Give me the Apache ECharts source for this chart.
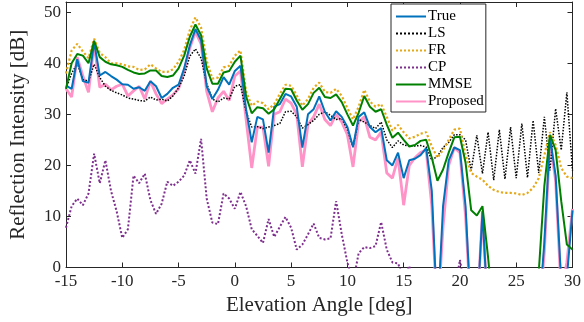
<!DOCTYPE html>
<html><head><meta charset="utf-8">
<script src="https://cdn.jsdelivr.net/npm/echarts@6/dist/echarts.min.js"></script>
<style>html,body{margin:0;padding:0;background:#fff}#c{width:584px;height:322px}</style>
</head><body><div id="c"></div>
<script>
const angles = [-15,-14.5,-14,-13.5,-13,-12.5,-12,-11.5,-11,-10.5,
-10,-9.5,-9,-8.5,-8,-7.5,-7,-6.5,-6,-5.5,
-5,-4.5,-4,-3.5,-3,-2.5,-2,-1.5,-1,-0.5,
0,0.5,1,1.5,2,2.5,3,3.5,4,4.5,
5,5.5,6,6.5,7,7.5,8,8.5,9,9.5,
10,10.5,11,11.5,12,12.5,13,13.5,14,14.5,
15,15.5,16,16.5,17,17.5,18,18.5,19,19.5,
20,20.5,21,21.5,22,22.5,23,23.5,24,24.5,
25,25.5,26,26.5,27,27.5,28,28.5,29,29.5,
30];
const trueVals = [35.6,35.0,40.8,36.5,36.2,44.1,37.6,38.3,37.5,36.8,
35.9,35.8,35.0,35.3,34.6,36.5,35.5,33.2,34.0,35.2,
35.8,39.0,43.5,46.7,44.5,35.5,33.0,34.8,37.3,35.8,
38.5,39.5,31.0,24.5,29.5,29.0,22.5,31.5,32.0,34.0,
33.5,31.5,23.5,30.0,31.0,33.5,30.5,28.8,30.6,29.5,
27.5,23.6,29.5,30.4,27.5,26.5,27.3,21.0,20.0,22.5,
17.5,21.0,21.3,22.0,23.4,15.0,-10,12.0,21.0,23.5,
23.0,12.0,-10,-10,11.0,-10,-10,-10,-10,-10,
-10,-10,-10,-10,-10,5,25.5,18,-3,-2,
11.2];
const lsVals = [35,38,40,36.8,36.5,39.8,37.2,35.5,34.7,34.2,
33.8,33.2,33.0,32.7,32.6,33.4,32.8,33.0,32.6,33.6,
35.2,37.5,41.4,42.8,41.0,36.0,33.0,32.4,33.2,33.0,
35.5,35.8,30.5,27.5,27.6,27.2,27.5,27.8,28.2,30.5,
30.6,29.5,27.3,28.0,28.8,30.0,30.5,29.8,29.0,29.2,
27.0,23.6,29.0,28.5,27.8,27.2,28.5,25.0,23.5,24.8,
24.0,23.8,23.8,23.9,23.6,21.0,21.8,23.5,24.5,26.0,
26.0,25.0,19.0,25.9,18.4,26.5,17.1,27.0,17.3,27.5,
17.5,28.2,17.6,28.8,18.5,29.5,19.0,31.1,23.0,34.3,
19.0];
const frVals = [38,42.5,43.8,42.3,41.0,44.8,42.0,41.2,40.0,40.0,
39.8,39.4,39.3,38.7,38.8,39.8,39.0,38.3,38.3,38.8,
40.3,42.6,46.5,49.0,47.0,40.5,37.0,37.2,39.2,39.5,
41.5,42.5,34.5,31.7,32.5,32.2,31.0,32.0,34.0,35.8,
35.6,33.7,31.7,33.0,35.2,36.2,34.4,34.2,35.0,33.6,
31.2,29.0,31.5,34.8,32.5,31.5,32.0,29.5,26.8,27.9,
26.5,25.3,25.6,26.2,26.5,23.7,21.5,23.0,25.0,27.0,
27.2,22.0,18.5,17.8,17.2,16.0,15.2,14.8,14.6,14.6,
14.5,14.2,14.6,15.6,17.5,22.0,26.5,24.0,19.5,17.8,
17.5];
const cpVals = [7.8,12.0,13.5,12.2,14.5,22.3,16.5,21.0,15.0,11.0,
5.8,7.5,18.0,16.5,18.4,13.2,10.5,12.5,16.8,16.0,
16.8,18.0,21.0,18.4,25.2,13.5,8.8,8.5,14.5,13.5,
11.5,14.8,12.0,7.5,6.2,4.8,9.5,6.0,8.0,9.9,
7.8,3.5,4.5,6.5,8.6,5.8,5.5,5.7,13.0,6.5,
1.0,-3,2.8,4.0,3.8,4.2,8.9,3.5,1.0,0.8,
-2,0.3,-5,-5,-5,-5,-5,-5,-5,-5,
1.5,-5,-5,-5,-5,-5,-5,-5,-5,-5,
-5,-5,-5,-5,-5,-5,-5,-5,-5,-5,
-5];
const mmseVals = [35,40,41.8,41.5,40.0,44.4,41.2,40.3,39.8,39.6,
39.3,38.7,38.2,37.9,38.0,38.6,38.6,37.5,37.3,37.6,
39.0,41.5,45.2,47.6,45.5,39.0,36.0,36.0,38.2,38.5,
40.3,41.5,33.5,30.2,31.4,31.2,30.1,31.0,33.0,35.0,
34.9,32.7,30.9,32.0,34.2,35.2,33.4,33.2,33.9,32.4,
30.0,27.8,30.3,33.6,31.5,30.5,31.0,28.0,25.4,26.4,
25.0,23.7,24.0,24.8,25.0,21.5,17.0,19.2,22.5,25.5,
25.6,20.5,11.2,10.2,12.0,2.0,-10,-10,-10,-10,
-10,-10,-10,-10,-1,16,26.0,23.0,13.0,4.5,
3.5];
const propVals = [35,33.4,41.2,37.5,34.3,43.8,35.3,35.9,34.8,35.5,
35.9,33.6,34.6,35.5,33.0,36.5,34.0,32.1,33.0,33.8,
35.0,38.5,43.0,46.2,43.8,34.5,30.5,33.2,34.5,32.7,
37.5,38.5,29.0,19.5,27.5,27.5,19.8,30.0,30.5,33.0,
32.2,30.0,19.7,28.0,29.5,32.0,29.0,27.8,30.0,28.5,
26.0,19.7,28.5,29.5,25.5,25.0,26.5,18.5,17.5,21.5,
12.2,20.0,21.5,22.5,23.0,12.0,-10,8,20.0,23.5,
22.5,10.0,-10,-10,11.0,-10,-10,-10,-10,-10,
-10,-10,-10,-10,-10,3,24.9,17,-5,1,
11.5];
const seriesNames = ['True','LS','FR','CP','MMSE','Proposed'];
const xTicks = [-15,-10,-5,0,5,10,15,20,25,30];

const pair = v => angles.map((a,i)=>[a,v[i]]);
const FONT = 'Liberation Serif';
const AX = '#262626';
const styles = [
  {v:trueVals, color:'#0072BD', w:2, type:'solid', z:4},
  {v:lsVals, color:'#000000', w:1.5, type:'dotted', z:3},
  {v:frVals, color:'#E6A817', w:2.2, type:'dotted', z:3},
  {v:cpVals, color:'#7E2F8E', w:2, type:'dotted', z:3},
  {v:mmseVals, color:'#008000', w:2, type:'solid', z:5},
  {v:propVals, color:'#FF92C6', w:2.8, type:'solid', z:2}
];
const chart = echarts.init(document.getElementById('c'), null, {renderer:'canvas'});
const xBase = {type:'value', min:-15, max:30, interval:5,
  axisLine:{show:true, onZero:false, lineStyle:{color:AX, width:1}},
  axisTick:{show:true, inside:true, length:5, lineStyle:{color:AX}},
  splitLine:{show:false}};
const yBase = {type:'value', min:0, max:52, interval:10,
  axisLine:{show:true, onZero:false, lineStyle:{color:AX, width:1}},
  axisTick:{show:true, inside:true, length:5, lineStyle:{color:AX}},
  splitLine:{show:false}};
chart.setOption({
  animation:false,
  backgroundColor:'#fff',
  grid:{left:65, right:11, top:2, bottom:54.5},
  legend:{
    data:seriesNames, orient:'vertical', left:391, top:4,
    itemWidth:30, itemHeight:14, itemGap:2,
    padding:[5,2,3,4],
    backgroundColor:'#fff', borderColor:'#262626', borderWidth:1,
    textStyle:{fontFamily:FONT, fontSize:15, color:'#000', padding:[0,0,0,-3]},
    itemStyle:{opacity:0}
  },
  xAxis:[
    Object.assign({}, xBase, {position:'bottom',
      name:'Elevation Angle [deg]', nameLocation:'middle', nameGap:24,
      nameTextStyle:{fontFamily:FONT, fontSize:21, color:AX},
      axisLabel:{fontFamily:FONT, fontSize:17, color:AX, margin:6,
        formatter: v => xTicks.includes(v) ? String(v) : ''}}),
    Object.assign({}, xBase, {position:'top', axisLabel:{show:false}})
  ],
  yAxis:[
    Object.assign({}, yBase, {position:'left',
      name:'Reflection Intensity [dB]', nameLocation:'middle', nameGap:37,
      nameTextStyle:{fontFamily:FONT, fontSize:21, color:AX},
      axisLabel:{fontFamily:FONT, fontSize:17, color:AX, margin:5, showMaxLabel:false}}),
    Object.assign({}, yBase, {position:'right', axisLabel:{show:false}})
  ],
  series: styles.map((s,i)=>({
    name:seriesNames[i], type:'line', data:pair(s.v),
    xAxisIndex:0, yAxisIndex:0,
    showSymbol:false, symbol:'none', clip:true, z:s.z,
    lineStyle:{color:s.color, width:s.w, type:s.type},
    itemStyle:{color:s.color}
  }))
});
</script></body></html>
